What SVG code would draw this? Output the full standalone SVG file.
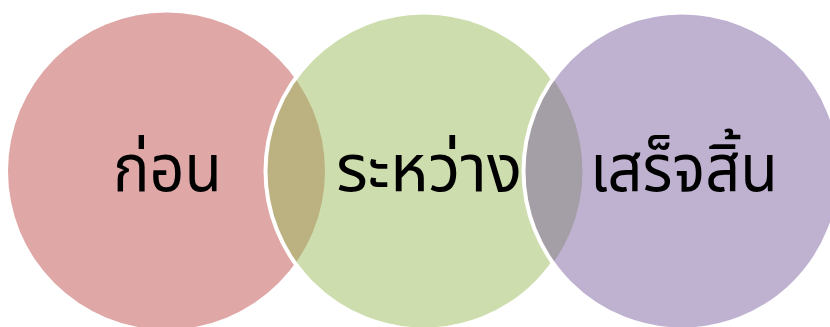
<svg xmlns="http://www.w3.org/2000/svg" width="830" height="327" viewBox="0 0 830 327">
<style>
.lbl{font-family:"Noto Sans","Noto Sans Thai","DejaVu Sans",sans-serif;font-size:66px;fill:#000;text-anchor:middle}
.edge{fill:none;stroke:#fff;stroke-width:4}
</style>
<defs>
<clipPath id="cRed"><circle cx="166.5" cy="171" r="158.5"/></clipPath>
<clipPath id="cGreen"><circle cx="424" cy="171" r="158.5"/></clipPath>
</defs>
<rect width="830" height="327" fill="#fff"/>
<g id="node-before">
<circle cx="166.5" cy="171" r="158.5" fill="#DFA7A6"/>
</g>
<g id="node-during">
<circle cx="424" cy="171" r="158.5" fill="#CEDDAD"/>
<circle cx="424" cy="171" r="158.5" fill="#BCB180" clip-path="url(#cRed)"/>
<circle class="edge" cx="424" cy="171" r="158.5"/>
</g>
<g id="node-done">
<circle cx="682" cy="171" r="158.5" fill="#BFB2D1"/>
<circle cx="682" cy="171" r="158.5" fill="#A49FA6" clip-path="url(#cGreen)"/>
<circle class="edge" cx="682" cy="171" r="158.5"/>
</g>
<g id="labels">
<text class="lbl" x="167.5" y="191" textLength="109" lengthAdjust="spacingAndGlyphs">ก่อน</text>
<text class="lbl" x="429" y="191" textLength="186" lengthAdjust="spacingAndGlyphs">ระหว่าง</text>
<text class="lbl" x="684" y="191" textLength="188" lengthAdjust="spacingAndGlyphs">เสร็จสิ้น</text>
</g>
</svg>
